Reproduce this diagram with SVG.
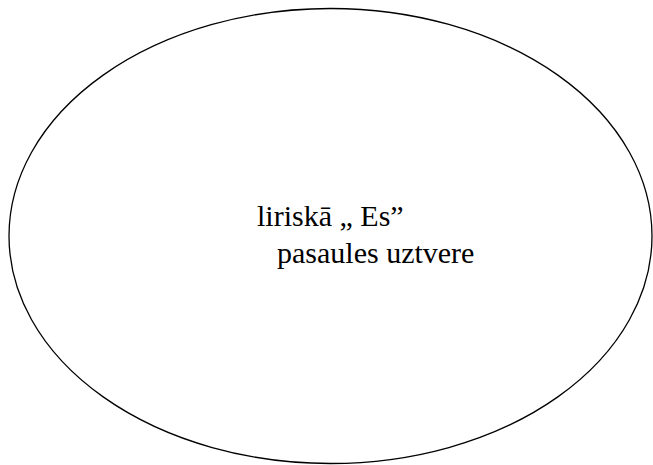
<svg xmlns="http://www.w3.org/2000/svg" width="653" height="465" viewBox="0 0 653 465">
<style>
.t{font-family:"Liberation Serif","Times New Roman",serif;font-size:30px;fill:#000}
</style>
<rect width="653" height="465" fill="#fff"/>
<g id="node-ellipse">
<ellipse cx="330.5" cy="236" rx="321.5" ry="227.5" fill="#fff" stroke="#000" stroke-width="1.3"/>
<text class="t" x="257" y="226">liriskā „ Es”</text>
<text class="t" x="277" y="263">pasaules uztvere</text>
</g>
<g id="connectors"/>
</svg>
